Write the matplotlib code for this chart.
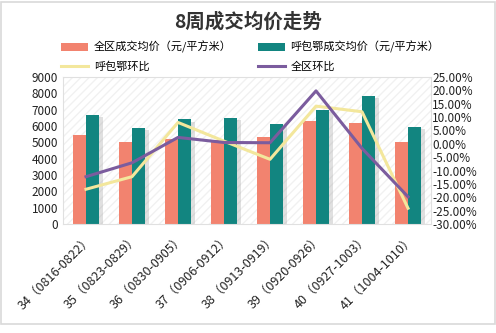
"""
8周成交均价走势: grouped bars (avg price) + week-on-week change lines on a twin axis.
"""
import matplotlib
matplotlib.use('Agg')
import matplotlib.pyplot as plt
import matplotlib.ticker as mticker
import matplotlib.patheffects as pe
from matplotlib.patches import Patch, Rectangle
from matplotlib.lines import Line2D
import numpy as np

plt.rcParams['font.family'] = ['Noto Sans CJK SC', 'DejaVu Sans']

# ── Data ───────────────────────────────────────────────────────────────────────
weeks = ["34（0816-0822）", "35（0823-0829）", "36（0830-0905）", "37（0906-0912）",
         "38（0913-0919）", "39（0920-0926）", "40（0927-1003）", "41（1004-1010）"]
price_all = [5450, 5050, 5200, 5150, 5300, 6300, 6200, 5000]      # 全区成交均价
price_hbe = [6700, 5900, 6400, 6500, 6150, 7000, 7850, 5950]      # 呼包鄂成交均价
chg_hbe = [-17.0, -12.3, 8.0, 1.0, -5.8, 14.1, 12.0, -24.1]       # 呼包鄂环比 (%)
chg_all = [-12.3, -7.1, 2.4, 0.5, 0.4, 19.8, -1.7, -19.8]         # 全区环比 (%)

C_CORAL = "#F2836F"
C_TEAL = "#128580"
C_YELLOW = "#F3E79C"
C_PURPLE = "#7B5C9E"

# ── Plot ───────────────────────────────────────────────────────────────────────
fig = plt.figure(figsize=(4.96, 3.33), dpi=100)
fig.patches.append(Rectangle((1 / 496, 1 - 324 / 333), 494 / 496, 322 / 333,
                             transform=fig.transFigure, fill=False,
                             edgecolor="#d9d9d9", linewidth=1.2))

ax = fig.add_axes([63 / 496, 1 - 224 / 333, 368 / 496, 147 / 333])
ax.patch.set_facecolor("white")
ax.patch.set_hatch("////")
ax.patch.set_edgecolor("#f1f1f1")
ax.patch.set_linewidth(0)

x = np.arange(len(weeks))
w = 0.29
shadow = [pe.SimplePatchShadow(offset=(2.5, -1.5), shadow_rgbFace="#999999", alpha=0.3),
          pe.Normal()]
b1 = ax.bar(x - w / 2, price_all, width=w, color=C_CORAL, zorder=2)
b2 = ax.bar(x + w / 2, price_hbe, width=w, color=C_TEAL, zorder=2)
for b in list(b1) + list(b2):
    b.set_path_effects(shadow)

ax.set_xlim(-0.5, len(weeks) - 0.5)
ax.set_ylim(0, 9000)
ax.yaxis.set_major_locator(mticker.MultipleLocator(1000))
ax.set_xticks(x)
ax.set_xticklabels(weeks, rotation=45, ha="right", rotation_mode="anchor",
                   fontsize=9, color="#222222")
ax.tick_params(axis="y", length=0, labelsize=8.5, colors="#222222")
ax.tick_params(axis="x", length=0, colors="#222222", pad=6)
for s in ax.spines.values():
    s.set_color("#e0e0e0")
    s.set_linewidth(0.8)

ax2 = ax.twinx()
ax2.plot(x, chg_hbe, color=C_YELLOW, linewidth=2.2, zorder=3)
ax2.plot(x, chg_all, color=C_PURPLE, linewidth=2.2, zorder=4)
ax2.set_ylim(-30, 25)
ax2.yaxis.set_major_locator(mticker.MultipleLocator(5))
ax2.yaxis.set_major_formatter(mticker.FuncFormatter(lambda v, _: f"{v:.2f}%"))
ax2.tick_params(axis="y", length=0, labelsize=8.5, colors="#222222", pad=1)
for s in ax2.spines.values():
    s.set_visible(False)

# Title
fig.text(0.5, 1 - 22 / 333, "8周成交均价走势", ha="center", va="center",
         fontsize=14, fontweight="heavy", color="#333333")

# Legend: two rows x two columns
handles = [Patch(facecolor=C_CORAL, label="全区成交均价（元/平方米）"),
           Line2D([], [], color=C_YELLOW, linewidth=2.2, label="呼包鄂环比"),
           Patch(facecolor=C_TEAL, label="呼包鄂成交均价（元/平方米）"),
           Line2D([], [], color=C_PURPLE, linewidth=2.2, label="全区环比")]
fig.legend(handles=handles, ncol=2, loc="center left",
           bbox_to_anchor=(57 / 496, 1 - 56.5 / 333), frameon=False,
           fontsize=8, handlelength=2.4, handleheight=0.8, handletextpad=0.5,
           columnspacing=2.4, labelspacing=0.75, borderaxespad=0)

fig.savefig("out.png", dpi=100)
plt.close(fig)
